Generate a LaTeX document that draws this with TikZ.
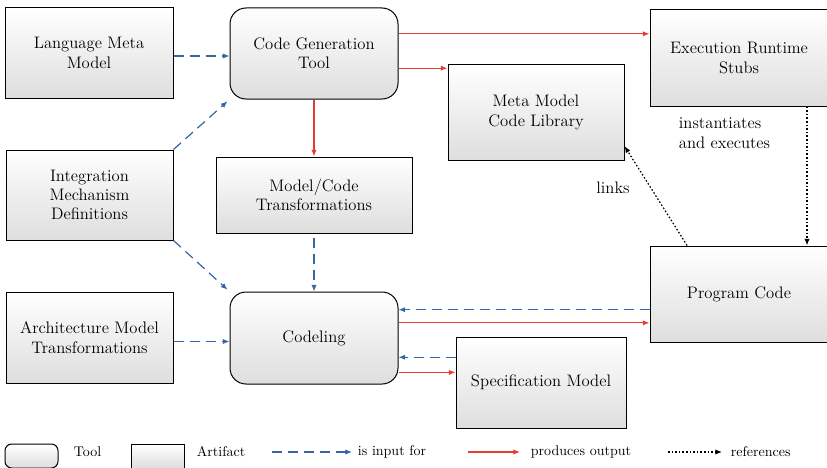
\documentclass[tikz,border=0pt]{standalone}
\usetikzlibrary{arrows.meta,calc}

\definecolor{inblue}{RGB}{52,101,164}
\definecolor{outred}{RGB}{228,62,48}
\newcommand{\diagfont}{\fontsize{12.5}{14.5}\selectfont}
\newcommand{\legfont}{\fontsize{10.5}{12}\selectfont}

\tikzset{every picture/.style={line width=0.75pt}}
\tikzset{
  artifact/.style={draw, rectangle, top color=white, bottom color=black!13, align=center, font=\diagfont, inner sep=2pt},
  tool/.style={artifact, rounded corners=12pt},
  inputarrow/.style={draw=inblue, line width=0.9pt, dash pattern=on 7.5pt off 4.5pt, -{Latex[length=5pt,width=4pt]}},
  outarrow/.style={draw=outred, line width=0.9pt, -{Latex[length=5pt,width=4pt]}},
  refarrow/.style={line width=0.9pt, dash pattern=on 1.2pt off 1.5pt, -{Latex[length=5pt,width=4pt]}},
  legtext/.style={anchor=west, font=\legfont},
}

\begin{document}
\begin{tikzpicture}[x=0.75pt,y=0.75pt,yscale=-1,xscale=1]
\useasboundingbox (0,0) rectangle (827,467);

%Shape: Rectangle
\node[artifact, minimum width=126pt, minimum height=67.5pt] (lmm) at (89,53) {Language Meta\\Model};
%Shape: Rounded Rect
\node[tool, minimum width=126pt, minimum height=68.25pt] (cgt) at (314,53.5) {Code Generation\\Tool};
%Shape: Rectangle
\node[artifact, minimum width=133.5pt, minimum height=72pt] (ers) at (739,58) {Execution Runtime\\Stubs};
%Shape: Rectangle
\node[artifact, minimum width=132pt, minimum height=71.25pt] (mmcl) at (536,112.5) {Meta Model\\Code Library};
%Shape: Rectangle
\node[artifact, minimum width=125.25pt, minimum height=67.5pt] (imd) at (89.5,195) {Integration\\Mechanism\\Definitions};
%Shape: Rectangle
\node[artifact, minimum width=147pt, minimum height=57pt] (mct) at (314,195) {Model/Code\\Transformations};
%Shape: Rectangle
\node[artifact, minimum width=133.5pt, minimum height=72pt] (pc) at (739,294) {Program Code};
%Shape: Rectangle
\node[artifact, minimum width=125.25pt, minimum height=68.25pt] (amt) at (89.5,337.5) {Architecture Model\\Transformations};
%Shape: Rounded Rect
\node[tool, minimum width=126pt, minimum height=69pt] (cdl) at (314,338) {Codeling};
%Shape: Rectangle
\node[artifact, minimum width=127.5pt, minimum height=68.25pt] (spec) at (541,382.5) {Specification Model};

% Text Node
\node[anchor=west, align=left, font=\diagfont] (instlbl) at (674,133) {instantiates\\and executes};
% Text Node
\node[font=\diagfont] (linkslbl) at (613,188) {links};

% points on the box sides
\coordinate (lmmA) at ($(lmm.east)+(0,3)$);
\coordinate (amtA) at ($(amt.east)+(0,4)$);
\coordinate (cgtA) at ($(cgt.north east)!0.286!(cgt.south east)$);
\coordinate (cgtB) at ($(cgt.north east)!0.66!(cgt.south east)$);
\coordinate (cdlA) at ($(cdl.north east)!0.196!(cdl.south east)$);
\coordinate (cdlB) at ($(cdl.north east)!0.337!(cdl.south east)$);
\coordinate (cdlC) at ($(cdl.north east)!0.707!(cdl.south east)$);
\coordinate (cdlD) at ($(cdl.north east)!0.87!(cdl.south east)$);
\coordinate (ersA) at ($(ers.south west)!0.88!(ers.south east)$);
\coordinate (pcA) at ($(pc.north west)!0.21!(pc.north east)$);
\coordinate (mmclA) at ($(mmcl.north east)!0.85!(mmcl.south east)$);

%Dashed Lines
\draw[inputarrow] (lmmA) -- (lmmA -| cgt.west);
\draw[inputarrow, shorten >=2pt] (imd.north east) -- (cgt.south west);
\draw[inputarrow, shorten >=2pt] (imd.south east) -- (cdl.north west);
\draw[inputarrow] (amtA) -- (amtA -| cdl.west);
\draw[inputarrow, shorten <=3pt] (mct.south) -- (cdl.north);
\draw[inputarrow] (cdlA -| pc.west) -- (cdlA);
\draw[inputarrow] (cdlC -| spec.west) -- (cdlC);

%Straight Lines
\draw[outarrow] (cgt.south) -- (mct.north);
\draw[outarrow] (cgtA) -- (cgtA -| ers.west);
\draw[outarrow] (cgtB) -- (cgtB -| mmcl.west);
\draw[outarrow] (cdlB) -- (cdlB -| pc.west);
\draw[outarrow] (cdlD) -- (cdlD -| spec.west);

%Dotted Lines
\draw[refarrow] (ersA) -- (ersA |- pc.north);
\draw[refarrow] (pcA) -- (mmclA);

% Legend
\node[tool, rounded corners=5pt, minimum width=39.75pt, minimum height=18pt] (legtool) at (31.5,456) {};
\node[legtext] (legtooltxt) at (69,452) {Tool};
\node[artifact, minimum width=39.75pt, minimum height=18pt] (legart) at (157.5,456) {};
\node[legtext] (legarttxt) at (192,452) {Artifact};
\coordinate (leginA) at (272,452);
\coordinate (leginB) at (352,452);
\draw[inputarrow] (leginA) -- (leginB);
\node[legtext] (legintxt) at (353,452) {is input for};
\coordinate (legoutA) at (468,452);
\coordinate (legoutB) at (520,452);
\draw[outarrow] (legoutA) -- (legoutB);
\node[legtext] (legouttxt) at (526,452) {produces output};
\coordinate (legrefA) at (668,452);
\coordinate (legrefB) at (722,452);
\draw[refarrow] (legrefA) -- (legrefB);
\node[legtext] (legreftxt) at (726,452) {references};

\end{tikzpicture}
\end{document}
